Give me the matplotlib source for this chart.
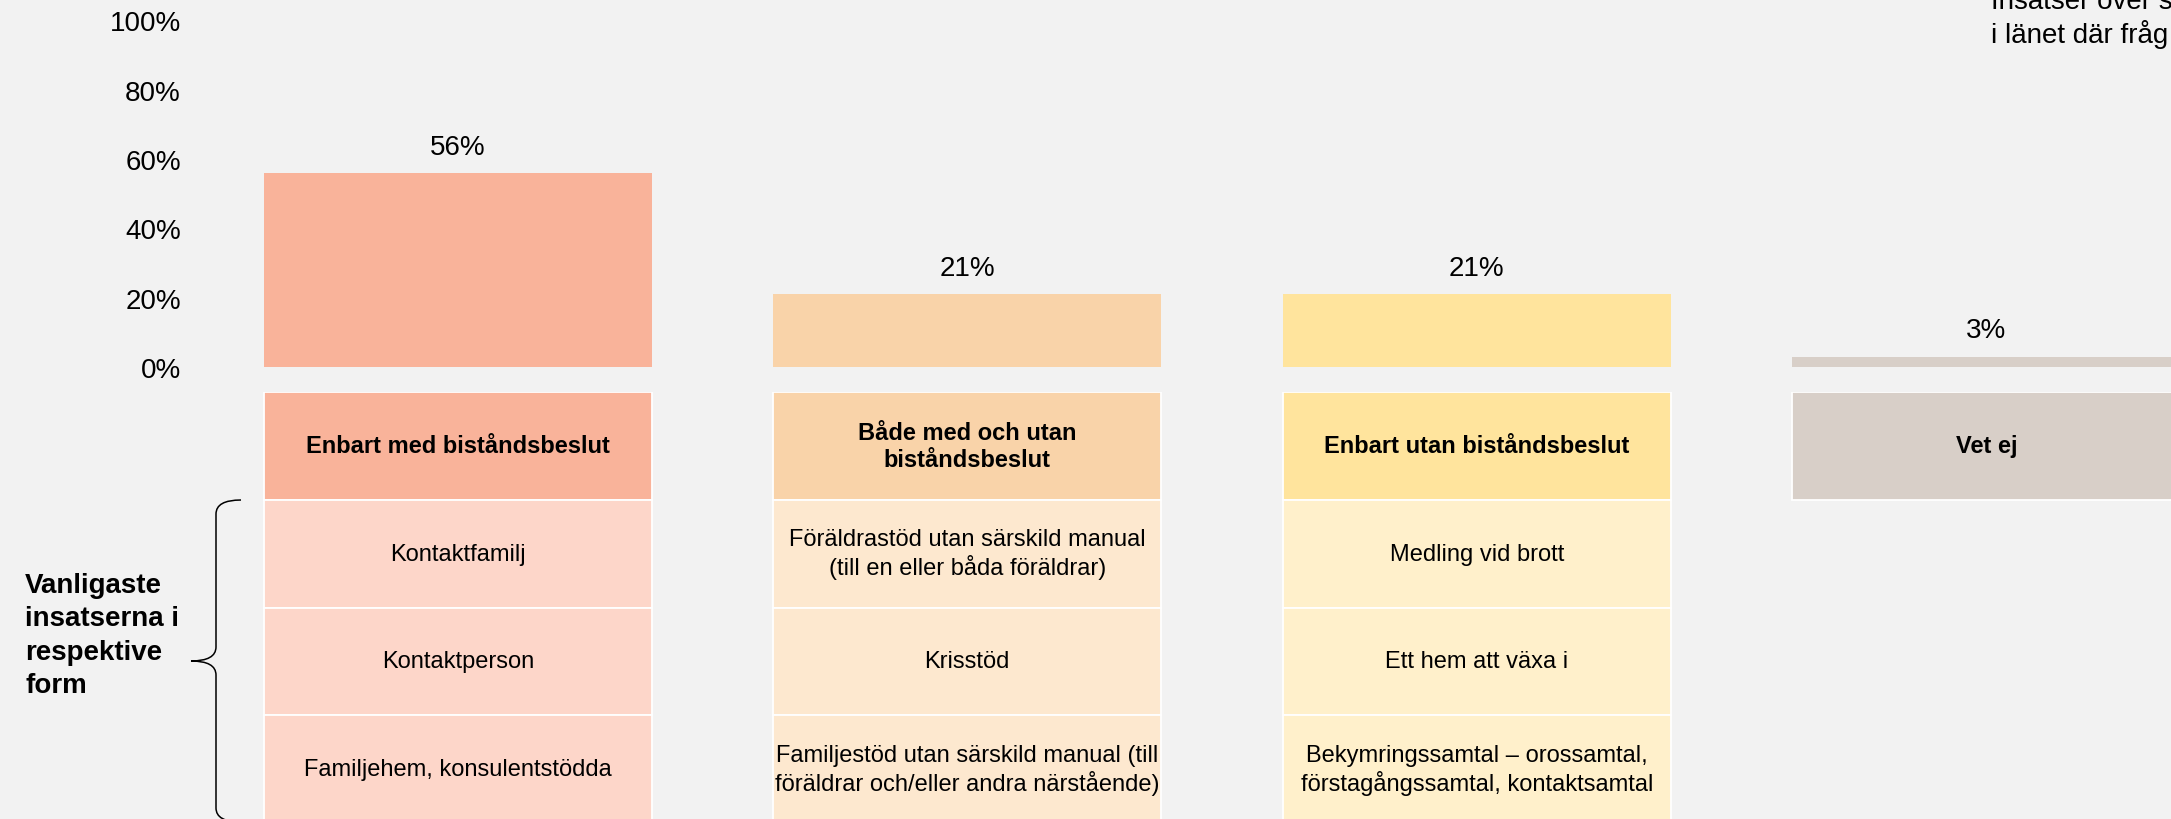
import matplotlib.pyplot as plt
from matplotlib.patches import Rectangle, PathPatch
from matplotlib.path import Path
from matplotlib.ticker import PercentFormatter

plt.rcParams['font.family'] = ['Liberation Sans', 'DejaVu Sans']

# --- data -------------------------------------------------------------
categories = ["Enbart med biståndsbeslut",
              "Både med och utan\nbiståndsbeslut",
              "Enbart utan biståndsbeslut",
              "Vet ej"]
shares = [0.56, 0.21, 0.21, 0.03]
yticks = [0.0, 0.2, 0.4, 0.6, 0.8, 1.0]
top_insatser = [
    ["Kontaktfamilj", "Kontaktperson", "Familjehem, konsulentstödda"],
    ["Föräldrastöd utan särskild manual\n(till en eller båda föräldrar)",
     "Krisstöd",
     "Familjestöd utan särskild manual (till\nföräldrar och/eller andra närstående)"],
    ["Medling vid brott", "Ett hem att växa i",
     "Bekymringssamtal – orossamtal,\nförstagångssamtal, kontaktsamtal"],
    [],
]
brace_label = "Vanligaste\ninsatserna i\nrespektive\nform"
note_lines = ["Insatser över s", "i länet där fråg"]

head_colors = ["#F9B39A", "#F9D3A9", "#FFE49D", "#D8CFC8"]
cell_colors = ["#FDD6C9", "#FDE8CF", "#FFF0CB", "#EEEEEE"]
BG = "#F2F2F2"

# --- layout (pixels) ---------------------------------------------------
W, H = 2171, 820


def box(left, top, width, height):
    return [left / W, 1 - (top + height) / H, width / W, height / H]


def fpt(x, y):
    return (x / W, 1 - y / H)


fig = plt.figure(figsize=(W / 100, H / 100), dpi=100, facecolor=BG)

step = 509.5
xs = list(range(len(categories)))
bw = 0.762

# bars
ax = fig.add_axes(box(203, 21.5, 4 * step, 346.5))
ax.set_facecolor("none")
ax.bar(xs, shares, width=bw, color=head_colors, linewidth=0)
for x, v in zip(xs, shares):
    ax.annotate(f"{v:.0%}", (x, v), xytext=(0, 19), textcoords="offset points",
                ha="center", va="center", fontsize=20)
ax.set_xlim(-0.5, 3.5)
ax.set_ylim(0, 1)
ax.set_yticks(yticks)
ax.yaxis.set_major_formatter(PercentFormatter(1.0, decimals=0))
ax.set_xticks([])
ax.tick_params(axis="y", length=0, labelsize=20, pad=16)
for s in ax.spines.values():
    s.set_visible(False)

# table below the bars
tb = fig.add_axes(box(203, 393, 4 * step, 4 * 107.8))
tb.set_facecolor("none")
tb.set_xlim(-0.5, 3.5)
tb.set_ylim(4, 0)
tb.axis("off")
for i, (cat, items) in enumerate(zip(categories, top_insatser)):
    tb.add_patch(Rectangle((i - bw / 2, 0), bw, 1, facecolor=head_colors[i],
                           edgecolor="white", linewidth=1.3))
    tb.text(i, 0.5, cat, ha="center", va="center", fontsize=17,
            fontweight="bold", linespacing=1.2)
    for r, item in enumerate(items, start=1):
        tb.add_patch(Rectangle((i - bw / 2, r), bw, 1, facecolor=cell_colors[i],
                               edgecolor="white", linewidth=1.3))
        tb.text(i, r + 0.5, item, ha="center", va="center", fontsize=17,
                linespacing=1.2)

# curly brace and its label
verts = [(241, 501), (216, 501), (216, 515), (216, 648), (216, 662), (191, 662),
         (216, 662), (216, 676), (216, 809), (216, 823), (241, 823)]
codes = [Path.MOVETO, Path.CURVE3, Path.CURVE3, Path.LINETO, Path.CURVE3, Path.CURVE3,
         Path.CURVE3, Path.CURVE3, Path.LINETO, Path.CURVE3, Path.CURVE3]
brace = PathPatch(Path([fpt(*v) for v in verts], codes), facecolor="none",
                  edgecolor="black", linewidth=1.1, transform=fig.transFigure)
fig.patches.append(brace)
fig.text(*fpt(25, 636), brace_label, ha="left", va="center", fontsize=20,
         fontweight="bold", linespacing=1.36)

# cut-off note in the top right corner (cropped in the original as well)
for y, line in zip([9, 43], note_lines):
    fig.text(*fpt(1991, y), line, ha="left", va="baseline", fontsize=20)

fig.savefig("out.png", dpi=100, facecolor=BG)
